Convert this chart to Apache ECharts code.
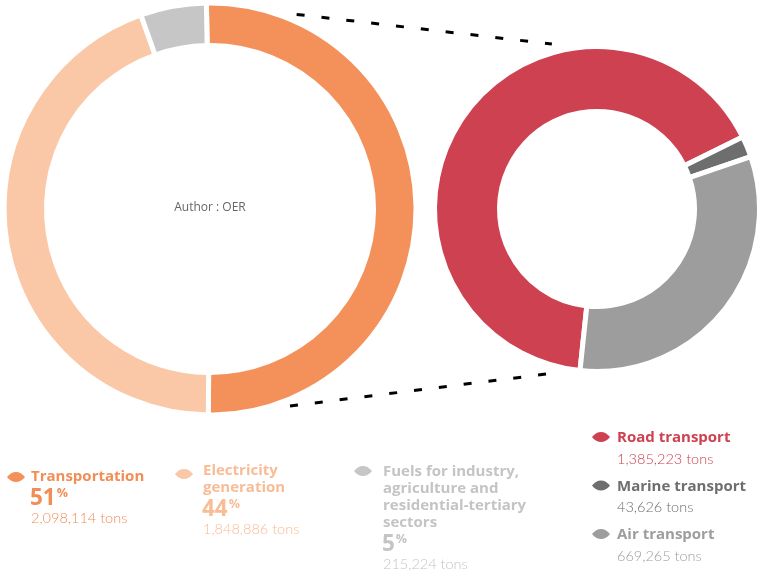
<!DOCTYPE html>
<html>
<head>
<meta charset="utf-8">
<script src="https://cdn.jsdelivr.net/npm/echarts@6/dist/echarts.min.js"></script>
<style>
  html, body { margin: 0; padding: 0; background: #ffffff; }
  #chart { width: 763px; height: 574px; }
</style>
</head>
<body>
<div id="chart"></div>
<script>
// Emissions by sector (tons)
const sectorNames = ['Transportation', 'Electricity generation', 'Fuels for industry, agriculture and residential-tertiary sectors'];
const sectorLabelLines = [['Transportation'], ['Electricity', 'generation'], ['Fuels for industry,', 'agriculture and', 'residential-tertiary', 'sectors']];
const sectorTons = [2098114, 1848886, 215224];
const sectorPercents = ['51', '44', '5'];
const sectorColors = ['#F4915A', '#FAC8A6', '#C6C6C6'];
const sectorTextColors = ['#F28D56', '#F8BC96', '#C4C4C4'];

// Breakdown of the transportation sector (tons)
const transportNames = ['Road transport', 'Marine transport', 'Air transport'];
const transportTons = [1385223, 43626, 669265];
const transportColors = ['#CE4150', '#6E6E6E', '#9D9D9D'];

const authorText = 'Author : OER';

// ---- geometry ----
const HEAD_FONT = '"Open Sans", Lato, sans-serif';
const BODY_FONT = 'Lato, "Noto Sans", sans-serif';
const LEFT = { cx: 210, cy: 209, r0: 166, r1: 203.5 };
const RIGHT = { cx: 597, cy: 209, r0: 100, r1: 160 };
const GAP = 5;

const fmt = n => n.toLocaleString('en-US');

function polar(c, deg, r) {
  const a = deg * Math.PI / 180;
  return [c.cx + r * Math.cos(a), c.cy - r * Math.sin(a)];
}

// lens-shaped legend marker
const LeafShape = echarts.graphic.extendShape({
  shape: { x: 0, y: 0, width: 18, height: 10 },
  buildPath: function (ctx, s) {
    const x = s.x, y = s.y, w = s.width, h = s.height;
    const my = y + h / 2;
    ctx.moveTo(x, my);
    ctx.bezierCurveTo(x + w * 0.28, y - h * 0.12, x + w * 0.72, y - h * 0.12, x + w, my);
    ctx.bezierCurveTo(x + w * 0.72, y + h * 1.12, x + w * 0.28, y + h * 1.12, x, my);
    ctx.closePath();
  }
});
echarts.graphic.registerShape('leaf', LeafShape);

function leaf(x, y, color) {
  return {
    type: 'leaf',
    silent: true,
    shape: { x: x, y: y - 5.5, width: 18, height: 11 },
    style: { fill: color }
  };
}

function text(x, y, str, opts) {
  return {
    type: 'text',
    silent: true,
    x: x, y: y,
    style: Object.assign({
      text: str, verticalAlign: 'middle', align: 'left'
    }, opts)
  };
}

const headStyle = col => ({ fontFamily: HEAD_FONT, fontSize: 15, fontWeight: 'bold', fill: col });
const bodyStyle = col => ({ fontFamily: BODY_FONT, fontSize: 14.5, fontWeight: 300, fill: col });

const graphics = [];

// centre caption
graphics.push({
  type: 'text', silent: true, x: LEFT.cx, y: LEFT.cy - 1,
  style: { text: authorText, fontFamily: '"Open Sans", sans-serif', fontSize: 12, fill: '#666666', align: 'center', verticalAlign: 'middle' }
});

// dashed connectors between the two rings
function connector(aDeg, aR, bDeg, bR) {
  const p = polar(LEFT, aDeg, aR);
  const q = polar(RIGHT, bDeg, bR);
  return {
    type: 'line', silent: true,
    shape: { x1: p[0], y1: p[1], x2: q[0], y2: q[1] },
    style: { stroke: '#000000', lineWidth: 3, lineDash: [8, 17] }
  };
}
graphics.push(connector(66, 213, 105.3, 171));
graphics.push(connector(-67.9, 212.6, -106.9, 172.4));

// sector legend blocks (bottom left)
const sectorBlocks = [
  { ix: 7, x: 31, y: 477, iy: 477 },
  { ix: 175, x: 203, y: 471, iy: 474 },
  { ix: 354, x: 383, y: 472, iy: 471 }
];
sectorBlocks.forEach((b, i) => {
  const col = sectorTextColors[i];
  graphics.push(leaf(b.ix, b.iy, sectorColors[i]));
  let y = b.y;
  sectorLabelLines[i].forEach(line => {
    graphics.push(text(b.x, y, line, headStyle(col)));
    y += 17;
  });
  y += 4.5;
  graphics.push(text(b.x - 1, y, '{p|' + sectorPercents[i] + '}{s|%}', {
    fill: col,
    rich: {
      p: { fontFamily: HEAD_FONT, fontSize: 22.5, fontWeight: 'bold', fill: col, verticalAlign: 'bottom', lineHeight: 24 },
      s: { fontFamily: HEAD_FONT, fontSize: 12.5, fontWeight: 'bold', fill: col, verticalAlign: 'top', lineHeight: 24, padding: [0, 0, 0, 1] }
    }
  }));
  y += 19.5;
  graphics.push(text(b.x, y, fmt(sectorTons[i]) + ' tons', bodyStyle(col)));
});

// transport legend blocks (bottom right)
transportNames.forEach((name, i) => {
  const col = transportColors[i];
  const y = 438 + i * 48.5;
  graphics.push(leaf(592, y - 1, col));
  graphics.push(text(617, y, name, headStyle(col)));
  graphics.push(text(617, y + 21, fmt(transportTons[i]) + ' tons', bodyStyle(col)));
});

const chart = echarts.init(document.getElementById('chart'), null, { renderer: 'canvas' });

chart.setOption({
  animation: false,
  backgroundColor: '#ffffff',
  series: [
    {
      type: 'pie',
      silent: true,
      center: [LEFT.cx, LEFT.cy],
      radius: [LEFT.r0 - GAP / 2, LEFT.r1 + GAP / 2],
      startAngle: 91,
      clockwise: true,
      label: { show: false },
      labelLine: { show: false },
      emphasis: { disabled: true },
      itemStyle: { borderColor: '#ffffff', borderWidth: GAP },
      data: sectorNames.map((n, i) => ({ name: n, value: sectorTons[i], itemStyle: { color: sectorColors[i] } }))
    },
    {
      type: 'pie',
      silent: true,
      center: [RIGHT.cx, RIGHT.cy],
      radius: [RIGHT.r0 - GAP / 2, RIGHT.r1 + GAP / 2],
      startAngle: 264,
      clockwise: true,
      label: { show: false },
      labelLine: { show: false },
      emphasis: { disabled: true },
      itemStyle: { borderColor: '#ffffff', borderWidth: GAP },
      data: transportNames.map((n, i) => ({ name: n, value: transportTons[i], itemStyle: { color: transportColors[i] } }))
    }
  ],
  graphic: graphics
});
</script>
</body>
</html>
